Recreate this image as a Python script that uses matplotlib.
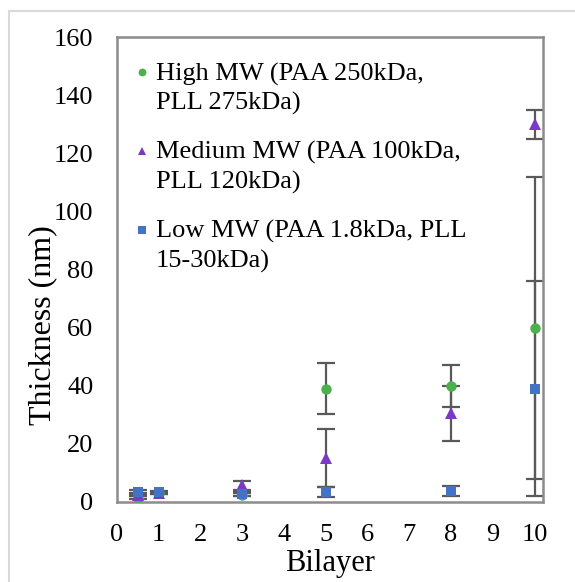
import matplotlib
matplotlib.use("Agg")
import matplotlib.pyplot as plt
from matplotlib.legend_handler import HandlerLine2D
from matplotlib.patches import Rectangle

plt.rcParams["font.family"] = ["Liberation Serif", "DejaVu Serif"]

bilayers = [0.5, 1, 3, 5, 8, 10]

high_mw = [1.5, 3.0, 2.5, 39.0, 40.0, 60.0]
high_err = [0.5, 0.3, 0.5, 8.7, 7.3, 52.0]

medium_mw = [2.5, 3.2, 5.8, 15.0, 30.5, 130.0]
medium_err = [0.5, 0.3, 1.5, 10.0, 9.5, 5.0]

low_mw = [3.5, 3.5, 2.7, 3.3, 3.8, 38.9]
low_err = [0.8, 0.3, 0.6, 1.7, 1.7, 37.0]

labels = [
    "High MW (PAA 250kDa,\nPLL 275kDa)",
    "Medium MW (PAA 100kDa,\nPLL 120kDa)",
    "Low MW (PAA 1.8kDa, PLL\n15-30kDa)",
]
colors = ["#4CB04C", "#7A3AC6", "#4472C4"]
markers = ["o", "^", "s"]
yticks = [0, 20, 40, 60, 80, 100, 120, 140, 160]
xticks = list(range(0, 11))


class HandlerFirstLine(HandlerLine2D):
    """Place the legend marker beside the first line of a two-line label."""

    def __init__(self, shift, **kw):
        super().__init__(**kw)
        self.shift = shift

    def create_artists(self, legend, orig_handle, xdescent, ydescent,
                       width, height, fontsize, trans):
        return super().create_artists(legend, orig_handle, xdescent,
                                      ydescent - 2 * self.shift, width,
                                      height, fontsize, trans)


fig = plt.figure(figsize=(5.75, 5.82), dpi=100)
ax = fig.add_axes([117 / 575, 1 - 502 / 582, (543 - 117) / 575, (502 - 37) / 582])

series = [(high_mw, high_err), (medium_mw, medium_err), (low_mw, low_err)]
handles = []
for (vals, errs), c, m, lab in zip(series, colors, markers, labels):
    ax.errorbar(bilayers, vals, yerr=errs, fmt="none", ecolor="#595959",
                elinewidth=1.6, capsize=6.5, capthick=1.6, zorder=2)
    h, = ax.plot(bilayers, vals, linestyle="none", marker=m, color=c,
                 markersize=7.5 if m != "^" else 8, markeredgewidth=0,
                 label=lab, zorder=3)
    handles.append(h)

ax.set_xlim(0, 10.2)
ax.set_ylim(0, 160)
ax.set_xticks(xticks)
ax.set_yticks(yticks)
ax.tick_params(axis="both", length=0, labelsize=19, colors="black")
ax.tick_params(axis="y", pad=17)
ax.tick_params(axis="x", pad=16)
for s in ax.spines.values():
    s.set_color("#8c8c8c")
    s.set_linewidth(1.8)

ax.set_xlabel("Bilayer", fontsize=22, labelpad=2)
ax.set_ylabel("Thickness (nm)", fontsize=23)
ax.yaxis.set_label_coords(-0.14, 0.38)

leg = ax.legend(
    handles=handles, labels=labels, loc="upper left",
    bbox_to_anchor=(0.0, 0.985), frameon=False, fontsize=19,
    handlelength=0.5, handletextpad=0.28, labelspacing=1.0,
    borderaxespad=0.3, markerscale=0.75,
    handler_map={h: HandlerFirstLine(shift=11.7) for h in handles},
)
for t in leg.get_texts():
    t.set_linespacing(1.36)

# outer chart border
fig.add_artist(Rectangle((9 / 575, -0.05), 1.2, 1 - 11 / 582 + 0.05,
                         transform=fig.transFigure, fill=False,
                         edgecolor="#d9d9d9", linewidth=1.5))

fig.savefig("out.png", dpi=100)
